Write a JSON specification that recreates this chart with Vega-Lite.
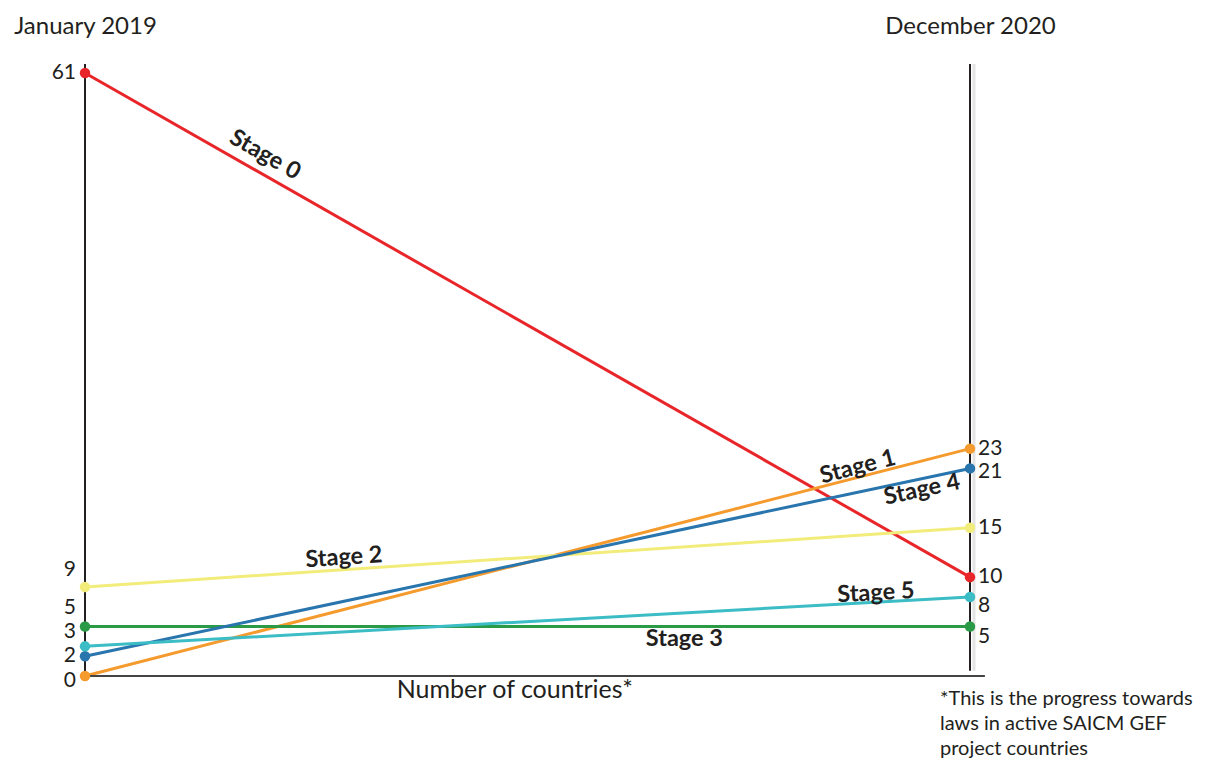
{
  "$schema": "https://vega.github.io/schema/vega-lite/v6.json",
  "width": 885,
  "height": 603,
  "autosize": "none",
  "padding": {"left": 85, "top": 73, "right": 237, "bottom": 84},
  "background": "white",
  "config": {"view": {"stroke": null}, "font": "Lato", "text": {"font": "Lato", "color": "#231f20"}},
  "data": {"values": [
    {"stage": "Stage 0", "period": "January 2019", "year": 2019, "count": 61},
    {"stage": "Stage 0", "period": "December 2020", "year": 2020.9167, "count": 10},
    {"stage": "Stage 1", "period": "January 2019", "year": 2019, "count": 0},
    {"stage": "Stage 1", "period": "December 2020", "year": 2020.9167, "count": 23},
    {"stage": "Stage 2", "period": "January 2019", "year": 2019, "count": 9},
    {"stage": "Stage 2", "period": "December 2020", "year": 2020.9167, "count": 15},
    {"stage": "Stage 3", "period": "January 2019", "year": 2019, "count": 5},
    {"stage": "Stage 3", "period": "December 2020", "year": 2020.9167, "count": 5},
    {"stage": "Stage 4", "period": "January 2019", "year": 2019, "count": 2},
    {"stage": "Stage 4", "period": "December 2020", "year": 2020.9167, "count": 21},
    {"stage": "Stage 5", "period": "January 2019", "year": 2019, "count": 3},
    {"stage": "Stage 5", "period": "December 2020", "year": 2020.9167, "count": 8}
  ]},
  "layer": [
    {
      "mark": {"type": "line", "strokeWidth": 3},
      "encoding": {
        "x": {"field": "year", "type": "quantitative",
          "scale": {"domain": [2019, 2020.9167], "nice": false, "zero": false},
          "axis": {"orient": "top", "values": [2019, 2020.9167],
            "labelExpr": "datum.value < 2020 ? 'January 2019' : 'December 2020'",
            "domain": false, "ticks": false, "tickSize": 0, "grid": false,
            "labelFontSize": 24, "labelPadding": 40, "labelBaseline": "alphabetic",
            "labelColor": "#231f20", "labelFont": "Lato", "title": null,
            "labelFlush": false, "labelOverlap": false, "labelBound": false}},
        "y": {"field": "count", "type": "quantitative", "scale": {"domain": [0, 61], "nice": false}, "axis": null},
        "color": {"field": "stage", "type": "nominal", "legend": null,
          "scale": {"domain": ["Stage 0", "Stage 1", "Stage 2", "Stage 3", "Stage 4", "Stage 5"],
            "range": ["#e8262a", "#f59a2c", "#f2ec7b", "#2b9a47", "#2975ae", "#3cbcc5"]}},
        "detail": {"field": "stage"}
      }
    },
    {
      "data": {"values": [{}]},
      "mark": {"type": "rule", "color": "#231f20", "strokeWidth": 2},
      "encoding": {
        "x": {"datum": 2019, "type": "quantitative"},
        "y": {"datum": 0, "type": "quantitative"},
        "y2": {"datum": 61.9}
      }
    },
    {
      "data": {"values": [{}]},
      "mark": {"type": "rule", "color": "#e4e4e4", "strokeWidth": 3, "xOffset": 4},
      "encoding": {
        "x": {"datum": 2020.9167, "type": "quantitative"},
        "y": {"datum": 0.54, "type": "quantitative"},
        "y2": {"datum": 61.9}
      }
    },
    {
      "data": {"values": [{}]},
      "mark": {"type": "rule", "color": "#231f20", "strokeWidth": 2},
      "encoding": {
        "x": {"datum": 2020.9167, "type": "quantitative"},
        "y": {"datum": 0.54, "type": "quantitative"},
        "y2": {"datum": 61.9}
      }
    },
    {
      "data": {"values": [{}]},
      "mark": {"type": "rule", "color": "#444444", "strokeWidth": 2},
      "encoding": {
        "x": {"datum": 2019, "type": "quantitative"},
        "x2": {"datum": 2020.949},
        "y": {"datum": 0, "type": "quantitative"}
      }
    },
    {
      "mark": {"type": "point", "filled": true, "size": 110, "opacity": 1},
      "encoding": {
        "x": {"field": "year", "type": "quantitative"},
        "y": {"field": "count", "type": "quantitative"},
        "color": {"field": "stage", "type": "nominal", "legend": null}
      }
    },
    {
      "transform": [{"filter": "datum.year < 2020"}],
      "mark": {"type": "text", "align": "right", "baseline": "middle", "dx": -9, "fontSize": 21,
        "dy": {"expr": "datum.count == 9 ? -17 : datum.count == 5 ? -19 : datum.count == 3 ? -14 : datum.count == 2 ? 0 : datum.count == 0 ? 5 : 0"}},
      "encoding": {
        "x": {"field": "year", "type": "quantitative"},
        "y": {"field": "count", "type": "quantitative"},
        "text": {"field": "count", "type": "quantitative"}
      }
    },
    {
      "transform": [{"filter": "datum.year > 2020"}],
      "mark": {"type": "text", "align": "left", "baseline": "middle", "dx": 8, "fontSize": 21,
        "dy": {"expr": "datum.count == 21 ? 4 : datum.count == 8 ? 9 : datum.count == 5 ? 10 : 0"}},
      "encoding": {
        "x": {"field": "year", "type": "quantitative"},
        "y": {"field": "count", "type": "quantitative"},
        "text": {"field": "count", "type": "quantitative"}
      }
    },
    {
      "data": {"values": [{}]},
      "mark": {"type": "text", "text": "Stage 0", "angle": 29.66, "dy": -17.6, "fontWeight": "bold", "fontSize": 23.5, "align": "center", "baseline": "middle"},
      "encoding": {"x": {"datum": 2019.371, "type": "quantitative"}, "y": {"datum": 51.16, "type": "quantitative"}}
    },
    {
      "data": {"values": [{}]},
      "mark": {"type": "text", "text": "Stage 1", "angle": 345.59, "dy": -10, "fontWeight": "bold", "fontSize": 23.5, "align": "center", "baseline": "middle"},
      "encoding": {"x": {"datum": 2020.679, "type": "quantitative"}, "y": {"datum": 20.15, "type": "quantitative"}}
    },
    {
      "data": {"values": [{}]},
      "mark": {"type": "text", "text": "Stage 4", "angle": 348.02, "dy": 11, "fontWeight": "bold", "fontSize": 23.5, "align": "center", "baseline": "middle"},
      "encoding": {"x": {"datum": 2020.808, "type": "quantitative"}, "y": {"datum": 19.92, "type": "quantitative"}}
    },
    {
      "data": {"values": [{}]},
      "mark": {"type": "text", "text": "Stage 2", "angle": 356.17, "dy": -12, "fontWeight": "bold", "fontSize": 23.5, "align": "center", "baseline": "middle"},
      "encoding": {"x": {"datum": 2019.5626, "type": "quantitative"}, "y": {"datum": 10.76, "type": "quantitative"}}
    },
    {
      "data": {"values": [{}]},
      "mark": {"type": "text", "text": "Stage 5", "angle": 356.8, "dy": -9, "fontWeight": "bold", "fontSize": 23.5, "align": "center", "baseline": "middle"},
      "encoding": {"x": {"datum": 2020.714, "type": "quantitative"}, "y": {"datum": 7.47, "type": "quantitative"}}
    },
    {
      "data": {"values": [{}]},
      "mark": {"type": "text", "text": "Stage 3", "dy": 12, "fontWeight": "bold", "fontSize": 23.5, "align": "center", "baseline": "middle"},
      "encoding": {"x": {"datum": 2020.298, "type": "quantitative"}, "y": {"datum": 5, "type": "quantitative"}}
    },
    {
      "data": {"values": [{}]},
      "mark": {"type": "text", "text": "Number of countries*", "dy": 22, "fontSize": 25, "align": "center", "baseline": "alphabetic"},
      "encoding": {"x": {"datum": 2019.931, "type": "quantitative"}, "y": {"datum": 0, "type": "quantitative"}}
    },
    {
      "data": {"values": [{}]},
      "mark": {"type": "text", "text": ["*This is the progress towards", "laws in active SAICM GEF", "project countries"], "dx": -30, "dy": 29, "fontSize": 20, "lineHeight": 25, "align": "left", "baseline": "alphabetic"},
      "encoding": {"x": {"datum": 2020.9167, "type": "quantitative"}, "y": {"datum": 0, "type": "quantitative"}}
    }
  ]
}
